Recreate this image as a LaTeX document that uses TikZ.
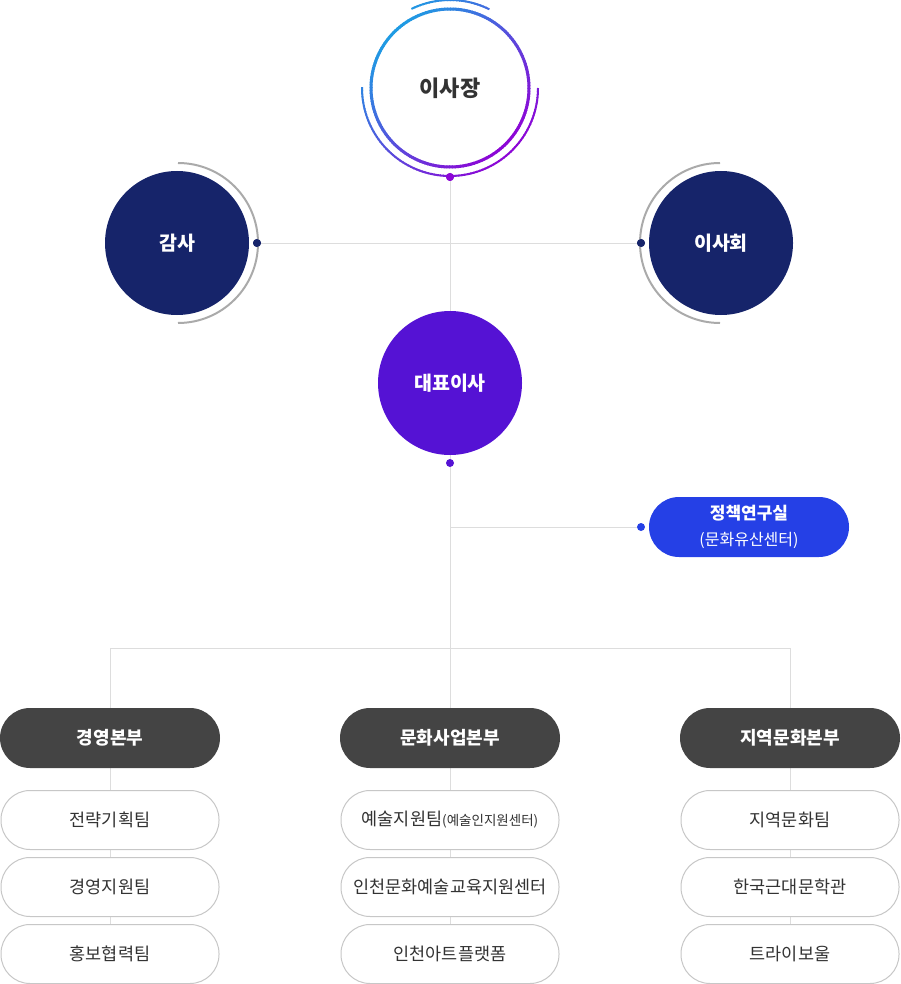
\documentclass[tikz,border=0pt]{standalone}
\usepackage{fontspec}
\setmainfont{Noto Sans CJK KR}
\usetikzlibrary{calc}
\definecolor{cA}{HTML}{1F9BE3}
\definecolor{cB}{HTML}{8C06D6}
\definecolor{navy}{HTML}{16246A}
\definecolor{violet}{HTML}{5512D4}
\definecolor{blueb}{HTML}{2540E6}
\definecolor{darkb}{HTML}{444444}
\definecolor{linec}{HTML}{DDDDDD}
\definecolor{txt}{HTML}{333333}
\definecolor{arcg}{HTML}{AAAAAA}
\tikzset{
  conn/.style={draw=linec, line width=1pt},
  bigc/.style={circle, minimum size=144pt, inner sep=0pt, text=white, font=\fontsize{19.5}{24}\selectfont\bfseries},
  dot/.style={circle, minimum size=8pt, inner sep=0pt},
  head/.style={rounded corners=30pt, minimum width=220pt, minimum height=60pt, inner sep=0pt, fill=darkb, text=white, font=\fontsize{18}{22}\selectfont\bfseries},
  item/.style={rounded corners=29pt, minimum width=218pt, minimum height=59pt, inner sep=0pt, draw=black!22, line width=1pt, fill=white, text=txt, font=\fontsize{17.5}{21}\selectfont},
}
\begin{document}
\begin{tikzpicture}[x=1pt,y=-1pt]
\useasboundingbox (0,0) rectangle (900,984);
% connectors
\coordinate (ceoC) at (450,88);
\node[dot, fill=cB] (dTop) at (450,177) {};
\node[dot, fill=violet] (dMid) at (450,463) {};
\node[dot, fill=navy] (dL) at (257,243) {};
\node[dot, fill=navy] (dR) at (641,243) {};
\node[dot, fill=blueb] (dP) at (641,527) {};
\coordinate (jP) at (450,527);
\coordinate (j1) at (110,648);
\coordinate (j2) at (450,648);
\coordinate (j3) at (790,648);
\coordinate (e1) at (110,955);
\coordinate (e2) at (450,955);
\coordinate (e3) at (790,955);
\draw[conn] (dTop) -- (dMid);
\draw[conn] (dL) -- (dR);
\draw[conn] (dMid) -- (j2);
\draw[conn] (jP) -- (dP);
\draw[conn] (j1) -- (j3);
\draw[conn] (j1) -- (e1);
\draw[conn] (j2) -- (e2);
\draw[conn] (j3) -- (e3);
% top circle
\node[circle, minimum size=158pt, inner sep=0pt, fill=white, text=txt, font=\fontsize{22}{26}\selectfont\bfseries] (ceo) at (ceoC) {이사장};
\foreach \a in {0,2,...,358}{
  \pgfmathsetmacro\t{50*(1-(cos(\a)+sin(\a))/1.41421)}
  \draw[line width=3pt, color={cA!\t!cB}] ($(ceoC)+(\a:79)$) arc[start angle=\a, end angle=\a+2.6, radius=79];
}
\foreach \a in {0,2,...,178}{
  \pgfmathsetmacro\t{50*(1-(cos(\a)+sin(\a))/1.41421)}
  \draw[line width=2pt, color={cA!\t!cB}] ($(ceoC)+(\a:88)$) arc[start angle=\a, end angle=\a+2.6, radius=88];
}
\foreach \a in {244,246,...,294}{
  \pgfmathsetmacro\t{50*(1-(cos(\a)+sin(\a))/1.41421)}
  \draw[line width=2pt, color={cA!\t!cB}] ($(ceoC)+(\a:88)$) arc[start angle=\a, end angle=\a+2.6, radius=88];
}
\node[dot, fill=cB] at (dTop) {};
% side circles
\draw[arcg, line width=2pt] (178,163) arc[start angle=-90, end angle=90, radius=80];
\draw[arcg, line width=2pt] (720,163) arc[start angle=270, end angle=90, radius=80];
\node[dot, fill=navy] at (dL) {};
\node[dot, fill=navy] at (dR) {};
\node[bigc, fill=navy] (audit) at (177,243) {감사};
\node[bigc, fill=navy] (board) at (721,243) {이사회};
\node[bigc, fill=violet] (ceo2) at (450,383) {대표이사};
% policy
\node[rounded corners=30pt, minimum width=200pt, minimum height=60pt, inner sep=0pt, fill=blueb, text=white, align=center, font=\fontsize{17}{26}\selectfont] (policy) at (749,527)
 {\bfseries 정책연구실\\\fontsize{16}{26}\selectfont (문화유산센터)};
% headquarters
\node[head] (h1) at (110,738) {경영본부};
\node[head] (h2) at (450,738) {문화사업본부};
\node[head] (h3) at (790,738) {지역문화본부};
\node[item] (a1) at (110,820) {전략기획팀};
\node[item] (a2) at (110,887) {경영지원팀};
\node[item] (a3) at (110,954) {홍보협력팀};
\node[item] (b1) at (450,820) {예술지원팀{\fontsize{13.5}{16}\selectfont (예술인지원센터)}};
\node[item] (b2) at (450,887) {인천문화예술교육지원센터};
\node[item] (b3) at (450,954) {인천아트플랫폼};
\node[item] (c1) at (790,820) {지역문화팀};
\node[item] (c2) at (790,887) {한국근대문학관};
\node[item] (c3) at (790,954) {트라이보울};
\end{tikzpicture}
\end{document}
